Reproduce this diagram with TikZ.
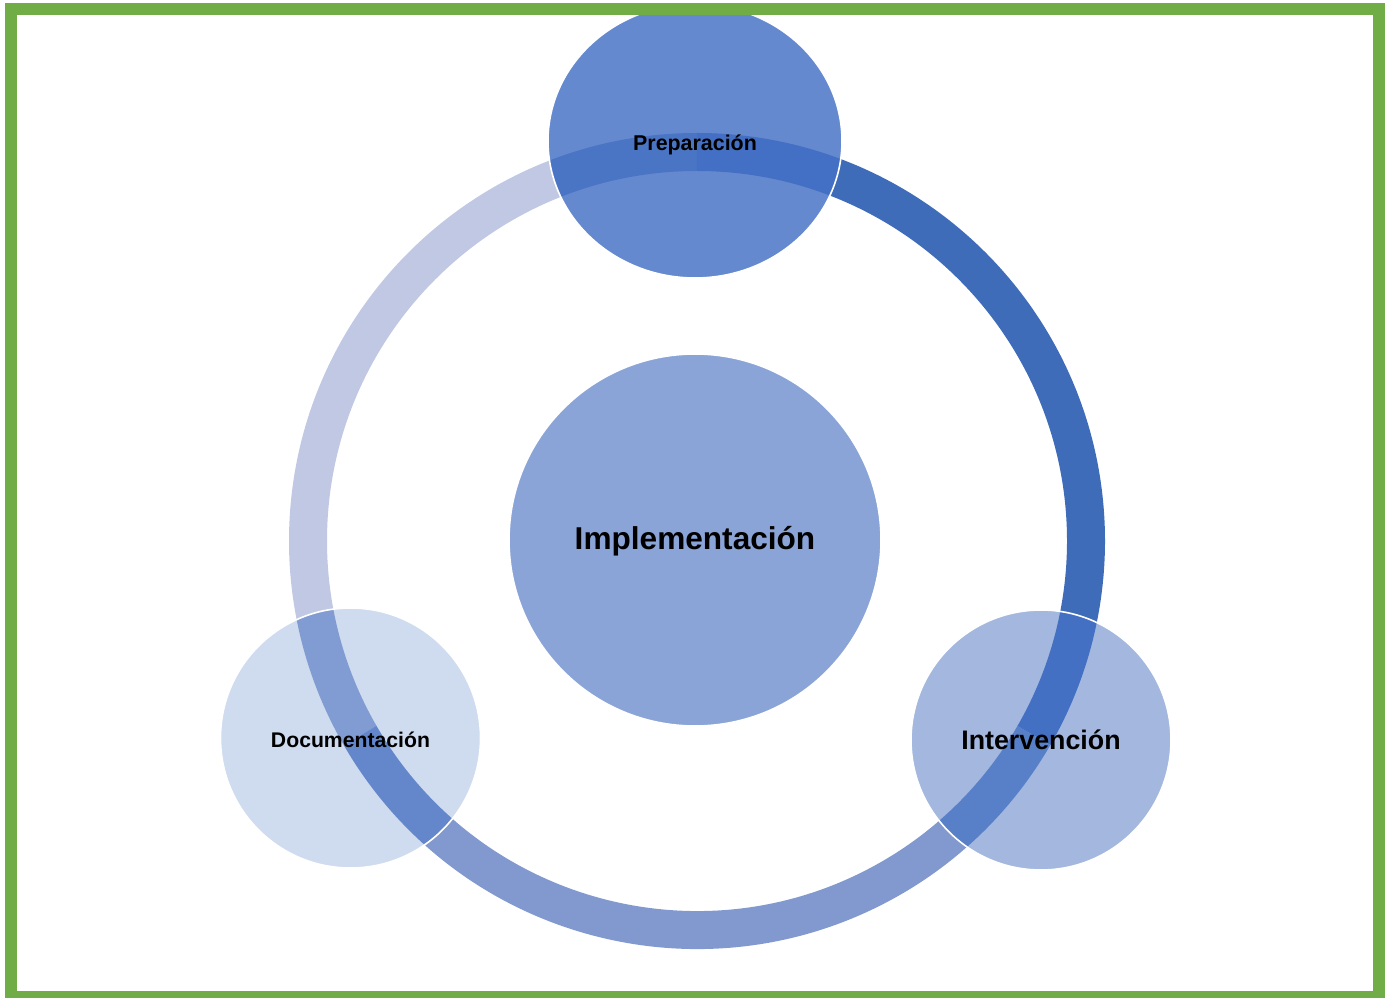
\documentclass[tikz,border=0pt]{standalone}
\usepackage{fontspec}
\setmainfont{Liberation Sans}
\usetikzlibrary{calc,shapes.geometric}

\definecolor{frame}{HTML}{70AD47}
\definecolor{armL}{HTML}{C0C8E3}
\definecolor{armR}{HTML}{3F6CB9}
\definecolor{armB}{HTML}{8299CF}
\definecolor{prepfill}{HTML}{6589CE}
\definecolor{implfill}{HTML}{8AA4D8}
\definecolor{intfill}{HTML}{A3B7DF}
\definecolor{docfill}{HTML}{CFDBEE}
\definecolor{prepL}{HTML}{4A74C4}
\definecolor{prepR}{HTML}{4370C4}
\definecolor{intR}{HTML}{4370C3}
\definecolor{intB}{HTML}{5880C8}
\definecolor{docL}{HTML}{819BD3}
\definecolor{docB}{HTML}{6487CB}

% one piece of the ring, from angle #2 to angle #3
\newcommand{\bandarc}[3]{
  \draw[band, draw=#1] ($(c)+(#2:389)$) arc [start angle=#2, end angle=#3, radius=389];
}

\begin{document}
\begin{tikzpicture}[x=0.5pt, y=0.5pt,
  band/.style={line width=19pt},
  phase/.style={circle, draw=white, line width=0.8pt, inner sep=0pt,
    text height=1.2em, text depth=0.284em, font=\bfseries}]
  \clip (0,0) rectangle (1391,997);
  \coordinate (c) at (697,456);

  % the ring
  \bandarc{armL}{90}{210}
  \bandarc{armB}{210}{330}
  \bandarc{armR}{90}{-30}

  \node[phase, fill=implfill, minimum size=186pt,
    font=\bfseries\fontsize{15.8}{19}\selectfont] at (695,457) (impl) {Implementación};

  \node[phase, ellipse, fill=prepfill, minimum width=147pt, minimum height=137pt,
    font=\bfseries\fontsize{10.7}{13}\selectfont,
    path picture={\bandarc{prepL}{90}{210}\bandarc{prepR}{90}{-30}}]
    at (695,856) (prep) {Preparación};

  \node[phase, fill=docfill, minimum size=130pt,
    font=\bfseries\fontsize{10.6}{13}\selectfont,
    path picture={\bandarc{docL}{90}{210}\bandarc{docB}{210}{330}}]
    at (350.5,259) (doc) {Documentación};

  \node[phase, fill=intfill, minimum size=130pt,
    font=\bfseries\fontsize{13.4}{16}\selectfont,
    path picture={\bandarc{intR}{90}{-30}\bandarc{intB}{210}{330}}]
    at (1041,257) (int) {Intervención};

  \draw[frame, line width=6pt] (10.5,0) rectangle (1379,988);
\end{tikzpicture}
\end{document}
